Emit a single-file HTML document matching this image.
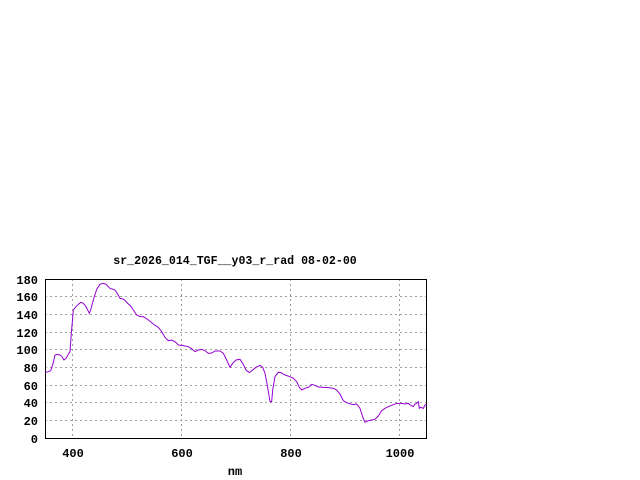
<!DOCTYPE html>
<html><head><style>body{margin:0;background:#fff}svg{display:block}text{font-family:"Liberation Mono",monospace;font-size:12px;font-weight:bold;fill:#000}</style></head>
<body>
<svg width="640" height="480" xmlns="http://www.w3.org/2000/svg">
<g stroke="#a0a0a0" stroke-width="1" stroke-dasharray="2,3" shape-rendering="crispEdges">
<line x1="45" x2="426" y1="420.5" y2="420.5"/><line x1="45" x2="426" y1="402.5" y2="402.5"/><line x1="45" x2="426" y1="385.5" y2="385.5"/><line x1="45" x2="426" y1="367.5" y2="367.5"/><line x1="45" x2="426" y1="349.5" y2="349.5"/><line x1="45" x2="426" y1="332.5" y2="332.5"/><line x1="45" x2="426" y1="314.5" y2="314.5"/><line x1="45" x2="426" y1="296.5" y2="296.5"/>
<line x1="72.5" x2="72.5" y1="279" y2="438"/><line x1="181.5" x2="181.5" y1="279" y2="438"/><line x1="290.5" x2="290.5" y1="279" y2="438"/><line x1="399.5" x2="399.5" y1="279" y2="438"/>
</g>
<rect x="45.5" y="279.5" width="381" height="159" fill="none" stroke="#000" shape-rendering="crispEdges"/>
<g font-size="12" text-anchor="end">
<text x="38" y="443">0</text><text x="38" y="425">20</text><text x="38" y="407">40</text><text x="38" y="390">60</text><text x="38" y="372">80</text><text x="38" y="354">100</text><text x="38" y="337">120</text><text x="38" y="319">140</text><text x="38" y="301">160</text><text x="38" y="284">180</text>
</g>
<g text-anchor="middle">
<text x="73" y="457">400</text><text x="182" y="457">600</text><text x="291" y="457">800</text><text x="400" y="457">1000</text>
<text x="235" y="475">nm</text>
<text x="235" y="264" style="font-size:11.6px">sr_2026_014_TGF__y03_r_rad 08-02-00</text>
</g>
<g transform="translate(0,250) scale(0.333333)">
<polyline fill="none" stroke="#9400d3" stroke-width="1" vector-effect="non-scaling-stroke" points="135,368 145,365 152,362 158,345 165,315 172,313 180,315 186,320 192,330 198,325 205,313 210,305 214,250 220,180 228,170 235,163 242,157 250,160 258,170 268,190 272,180 280,150 290,118 300,103 310,100 318,103 330,115 345,120 352,130 360,145 372,148 383,160 392,168 400,180 410,195 420,200 430,200 445,210 460,222 475,232 485,245 495,262 505,272 515,270 525,275 535,285 545,286 555,288 565,290 575,296 585,305 595,300 605,298 615,302 625,310 635,309 645,303 660,303 670,310 680,330 690,352 698,340 708,330 720,328 728,340 738,360 748,368 758,360 768,352 780,346 788,352 795,370 800,395 806,430 810,455 815,455 818,420 825,380 835,367 843,368 855,375 870,380 880,385 890,395 898,412 905,420 915,415 925,412 935,403 945,406 955,411 970,412 985,413 1000,415 1010,420 1020,432 1030,452 1040,458 1052,462 1060,464 1070,462 1080,475 1088,500 1095,517 1105,512 1115,510 1125,508 1135,498 1145,482 1155,475 1165,470 1175,466 1190,460 1205,460 1215,462 1225,460 1235,468 1240,470 1245,462 1250,460 1255,455 1258,475 1262,472 1270,475 1275,465 1279,463"/>
</g>
</svg>
</body></html>
